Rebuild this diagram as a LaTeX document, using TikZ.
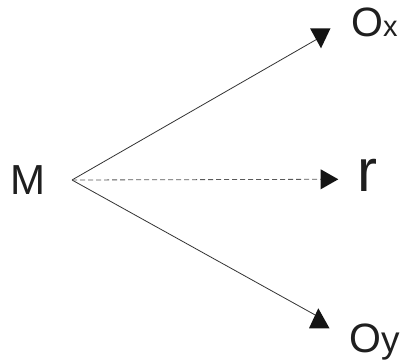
\documentclass[tikz,border=0pt]{standalone}
\usepackage{fontspec}
\setmainfont{Liberation Sans}
\begin{document}
\begin{tikzpicture}[x=1pt,y=-1pt,
  lbl/.style={anchor=base west,inner sep=0pt,text=black!88},
  conn/.style={draw=black!80,line width=0.8pt},
  dconn/.style={draw=black!65,line width=0.8pt,dash pattern=on 5pt off 3pt},
  head/.style={fill=black!92}]
\useasboundingbox (0,0) rectangle (401,363);
\fill[white] (0,0) rectangle (401,363);
% labels
\node[lbl,font=\fontsize{42}{42}\selectfont] (M) at (10,195) {M};
\node[lbl,font=\fontsize{41}{41}\selectfont] (Ox) at (351,37) {O\fontsize{29}{29}\selectfont x};
\node[lbl,font=\fontsize{41}{41}\selectfont] (Oy) at (349,352) {O\fontsize{37}{37}\selectfont y};
\node[lbl,font=\fontsize{60}{60}\selectfont] (r) at (357,192) {r};
% vertex and ends
\coordinate (v) at (72,180);
\coordinate (ex) at (319,38);
\coordinate (er) at (321,179.3);
\coordinate (ey) at (317,316);
\draw[conn] (v) -- (ex);
\draw[conn] (v) -- (ey);
\draw[dconn] (v) -- (er);
% arrowheads
\fill[head] (310,28.3) -- (330.5,28.3) -- (321,48.3) -- cycle;
\fill[head] (320.7,169.3) -- (338.3,179.3) -- (320.7,189.3) -- cycle;
\fill[head] (318.3,308.3) -- (329.5,328.3) -- (309,328.3) -- cycle;
\end{tikzpicture}
\end{document}
